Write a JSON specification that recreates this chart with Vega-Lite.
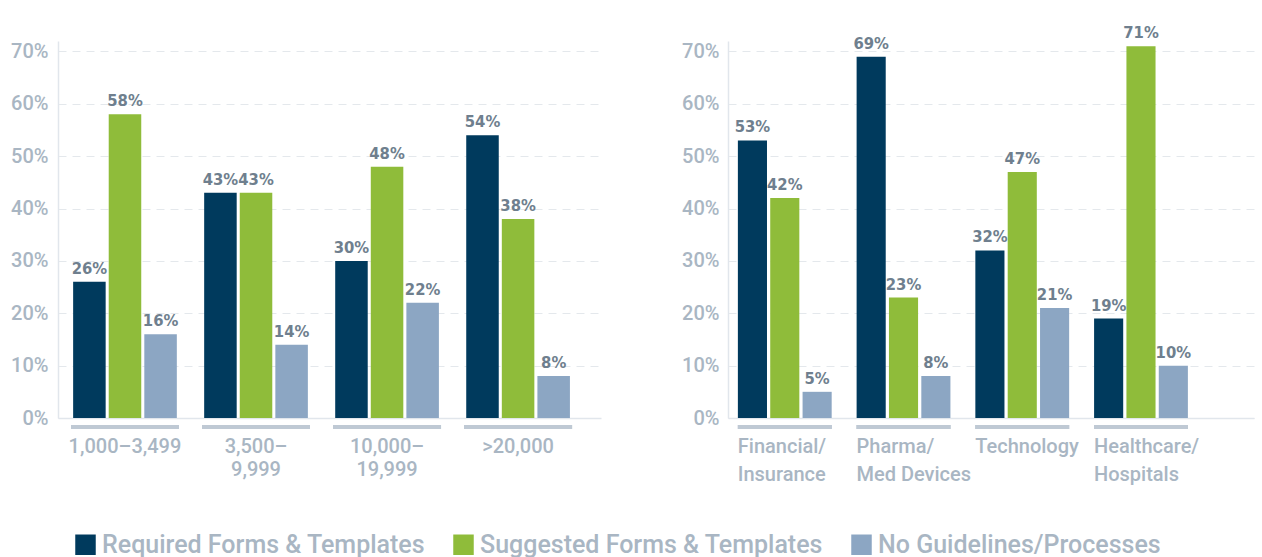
{
  "$schema": "https://vega.github.io/schema/vega-lite/v6.json",
  "padding": {"left": 10, "top": 25, "right": 5, "bottom": 5},
  "background": "white",
  "datasets": {
    "size": [
      {"group": "1,000–3,499", "series": "Required Forms & Templates", "value": 0.26},
      {"group": "1,000–3,499", "series": "Suggested Forms & Templates", "value": 0.58},
      {"group": "1,000–3,499", "series": "No Guidelines/Processes", "value": 0.16},
      {"group": "3,500–|9,999", "series": "Required Forms & Templates", "value": 0.43},
      {"group": "3,500–|9,999", "series": "Suggested Forms & Templates", "value": 0.43},
      {"group": "3,500–|9,999", "series": "No Guidelines/Processes", "value": 0.14},
      {"group": "10,000–|19,999", "series": "Required Forms & Templates", "value": 0.30},
      {"group": "10,000–|19,999", "series": "Suggested Forms & Templates", "value": 0.48},
      {"group": "10,000–|19,999", "series": "No Guidelines/Processes", "value": 0.22},
      {"group": ">20,000", "series": "Required Forms & Templates", "value": 0.54},
      {"group": ">20,000", "series": "Suggested Forms & Templates", "value": 0.38},
      {"group": ">20,000", "series": "No Guidelines/Processes", "value": 0.08}
    ],
    "industry": [
      {"group": "Financial/|Insurance", "series": "Required Forms & Templates", "value": 0.53},
      {"group": "Financial/|Insurance", "series": "Suggested Forms & Templates", "value": 0.42},
      {"group": "Financial/|Insurance", "series": "No Guidelines/Processes", "value": 0.05},
      {"group": "Pharma/|Med Devices", "series": "Required Forms & Templates", "value": 0.69},
      {"group": "Pharma/|Med Devices", "series": "Suggested Forms & Templates", "value": 0.23},
      {"group": "Pharma/|Med Devices", "series": "No Guidelines/Processes", "value": 0.08},
      {"group": "Technology", "series": "Required Forms & Templates", "value": 0.32},
      {"group": "Technology", "series": "Suggested Forms & Templates", "value": 0.47},
      {"group": "Technology", "series": "No Guidelines/Processes", "value": 0.21},
      {"group": "Healthcare/|Hospitals", "series": "Required Forms & Templates", "value": 0.19},
      {"group": "Healthcare/|Hospitals", "series": "Suggested Forms & Templates", "value": 0.71},
      {"group": "Healthcare/|Hospitals", "series": "No Guidelines/Processes", "value": 0.10}
    ]
  },
  "hconcat": [
    {
      "width": 543,
      "height": 377,
      "data": {"name": "size"},
      "encoding": {
        "x": {
          "field": "group", "type": "nominal", "sort": null, "title": null,
          "scale": {"paddingInner": 0.176, "paddingOuter": 0.16, "align": 0.31},
          "axis": {"labelExpr": "split(datum.label, '|')", "labelAngle": 0, "labelBaseline": "top", "labelPadding": 18, "labelLineHeight": 23, "labelAlign": "center"}
        }
      },
      "layer": [
        {
          "mark": {"type": "bar", "color": "#bfc9d4"},
          "encoding": {
            "y": {"datum": -0.0135, "type": "quantitative", "scale": {"domain": [0, 0.72]}},
            "y2": {"datum": -0.021}
          }
        },
        {
          "mark": {"type": "bar"},
          "encoding": {
            "xOffset": {"field": "series", "sort": ["Required Forms & Templates", "Suggested Forms & Templates", "No Guidelines/Processes"], "scale": {"paddingInner": 0.086, "paddingOuter": 0.06}},
            "y": {"field": "value", "type": "quantitative", "scale": {"domain": [0, 0.72]}, "title": null,
              "axis": {"values": [0, 0.1, 0.2, 0.3, 0.4, 0.5, 0.6, 0.7], "format": ".0%", "labelPadding": 10}},
            "color": {"field": "series", "type": "nominal", "title": null,
              "scale": {"domain": ["Required Forms & Templates", "Suggested Forms & Templates", "No Guidelines/Processes"], "range": ["#003a5d", "#8fbc3a", "#8ca6c3"]}}
          }
        },
        {
          "mark": {"type": "text", "baseline": "bottom", "dy": -5, "font": "DejaVu Sans Condensed, Roboto", "fontWeight": "bold", "fontSize": 16.5, "color": "#6f7f8e"},
          "encoding": {
            "xOffset": {"field": "series", "sort": ["Required Forms & Templates", "Suggested Forms & Templates", "No Guidelines/Processes"], "scale": {"paddingInner": 0.086, "paddingOuter": 0.06}},
            "y": {"field": "value", "type": "quantitative", "scale": {"domain": [0, 0.72]}},
            "text": {"field": "value", "type": "quantitative", "format": ".0%"}
          }
        }
      ]
    },
    {
      "width": 526,
      "height": 377,
      "data": {"name": "industry"},
      "encoding": {
        "x": {
          "field": "group", "type": "nominal", "sort": null, "title": null,
          "scale": {"paddingInner": 0.21, "paddingOuter": 0.32, "align": 0.13},
          "axis": {"labelExpr": "split(datum.label, '|')", "labelAngle": 0, "labelBaseline": "top", "labelPadding": 18, "labelLineHeight": 28, "labelAlign": "left", "labelOffset": -47}
        }
      },
      "layer": [
        {
          "mark": {"type": "bar", "color": "#bfc9d4"},
          "encoding": {
            "y": {"datum": -0.0135, "type": "quantitative", "scale": {"domain": [0, 0.72]}},
            "y2": {"datum": -0.021}
          }
        },
        {
          "mark": {"type": "bar"},
          "encoding": {
            "xOffset": {"field": "series", "sort": ["Required Forms & Templates", "Suggested Forms & Templates", "No Guidelines/Processes"], "scale": {"paddingInner": 0.1, "paddingOuter": 0}},
            "y": {"field": "value", "type": "quantitative", "scale": {"domain": [0, 0.72]}, "title": null,
              "axis": {"values": [0, 0.1, 0.2, 0.3, 0.4, 0.5, 0.6, 0.7], "format": ".0%", "labelPadding": 9}},
            "color": {"field": "series", "type": "nominal", "title": null,
              "scale": {"domain": ["Required Forms & Templates", "Suggested Forms & Templates", "No Guidelines/Processes"], "range": ["#003a5d", "#8fbc3a", "#8ca6c3"]}}
          }
        },
        {
          "mark": {"type": "text", "baseline": "bottom", "dy": -5, "font": "DejaVu Sans Condensed, Roboto", "fontWeight": "bold", "fontSize": 16.5, "color": "#6f7f8e"},
          "encoding": {
            "xOffset": {"field": "series", "sort": ["Required Forms & Templates", "Suggested Forms & Templates", "No Guidelines/Processes"], "scale": {"paddingInner": 0.1, "paddingOuter": 0}},
            "y": {"field": "value", "type": "quantitative", "scale": {"domain": [0, 0.72]}},
            "text": {"field": "value", "type": "quantitative", "format": ".0%"}
          }
        }
      ]
    }
  ],
  "spacing": 80,
  "resolve": {"scale": {"color": "shared", "xOffset": "independent"}, "legend": {"color": "shared"}},
  "config": {
    "view": {"stroke": null},
    "font": "Roboto",
    "axis": {
      "labelFont": "Roboto",
      "labelFontSize": 20,
      "labelFontWeight": 500,
      "labelColor": "#a9b6c3",
      "domainColor": "#e1e6ec",
      "domainWidth": 1.5,
      "ticks": false,
      "gridColor": "#e4e8ec",
      "gridDash": [8, 6],
      "gridWidth": 1
    },
    "axisX": {"grid": false},
    "axisY": {"grid": true},
    "legend": {
      "orient": "none",
      "legendX": 15,
      "legendY": 491,
      "direction": "horizontal",
      "symbolType": "square",
      "symbolSize": 420,
      "symbolStrokeWidth": 0,
      "symbolOpacity": 1,
      "labelFont": "Roboto",
      "labelFontSize": 25,
      "labelFontWeight": 500,
      "labelColor": "#a9b6c3",
      "labelOffset": 4,
      "columnPadding": 25,
      "labelLimit": 400
    }
  }
}
